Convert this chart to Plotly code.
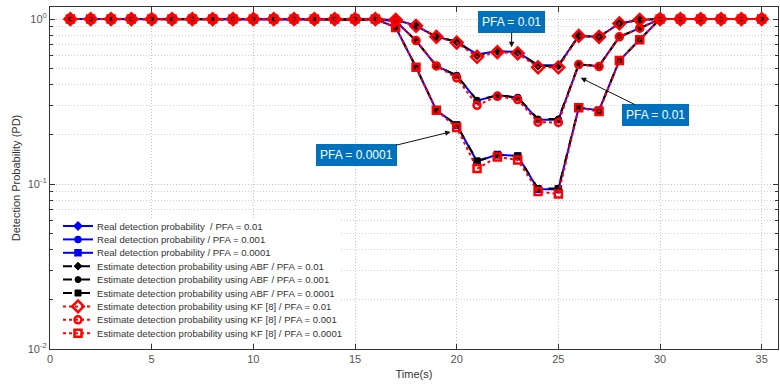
import math
import plotly.graph_objects as go

# Time axis (seconds)
time_s = list(range(1, 36))

ones16 = [1.0] * 16
ones6 = [1.0] * 6

# Real detection probability
real_pfa_1e2 = ones16 + [0.99, 0.91, 0.78, 0.73, 0.61, 0.64, 0.63, 0.525, 0.525, 0.79, 0.78, 0.94, 0.99] + ones6
real_pfa_1e3 = ones16 + [0.97, 0.74, 0.52, 0.455, 0.32, 0.345, 0.335, 0.245, 0.245, 0.53, 0.52, 0.78, 0.88] + ones6
real_pfa_1e4 = ones16 + [0.89, 0.51, 0.28, 0.228, 0.137, 0.151, 0.148, 0.093, 0.093, 0.29, 0.28, 0.56, 0.75] + ones6

# ABF estimate
abf_pfa_1e2 = ones16 + [0.99, 0.91, 0.78, 0.73, 0.60, 0.64, 0.63, 0.52, 0.52, 0.79, 0.78, 0.94, 0.99] + ones6
abf_pfa_1e3 = ones16 + [0.97, 0.74, 0.52, 0.455, 0.322, 0.345, 0.335, 0.248, 0.248, 0.53, 0.52, 0.78, 0.88] + ones6
abf_pfa_1e4 = ones16 + [0.89, 0.51, 0.28, 0.228, 0.138, 0.150, 0.148, 0.094, 0.094, 0.29, 0.28, 0.56, 0.75] + ones6

# KF [8] estimate
kf_pfa_1e2 = ones16 + [0.99, 0.91, 0.78, 0.72, 0.59, 0.63, 0.62, 0.51, 0.51, 0.79, 0.78, 0.94, 0.99] + ones6
kf_pfa_1e3 = ones16 + [0.97, 0.74, 0.52, 0.44, 0.30, 0.34, 0.325, 0.237, 0.236, 0.53, 0.515, 0.78, 0.88] + ones6
kf_pfa_1e4 = ones16 + [0.89, 0.51, 0.28, 0.22, 0.124, 0.146, 0.140, 0.090, 0.087, 0.29, 0.275, 0.56, 0.75] + ones6

# Callout labels: (text, arrow tip t, arrow tip PD, label t, label PD)
callouts = [
    ("PFA = 0.01", 22.7, 0.675, 22.7, 0.96),
    ("PFA = 0.01", 26.1, 0.44, 29.8, 0.262),
    ("PFA = 0.0001", 19.7, 0.207, 15.05, 0.15),
]

BLUE = "#0000FF"
BLACK = "#000000"
RED = "#FF0000"

series = [
    ("Real detection probability  / PFA = 0.01", real_pfa_1e2, BLUE, "solid", "diamond"),
    ("Real detection probability / PFA = 0.001", real_pfa_1e3, BLUE, "solid", "circle"),
    ("Real detection probability / PFA = 0.0001", real_pfa_1e4, BLUE, "solid", "square"),
    ("Estimate detection probability using ABF / PFA = 0.01", abf_pfa_1e2, BLACK, "dash", "diamond"),
    ("Estimate detection probability using ABF / PFA = 0.001", abf_pfa_1e3, BLACK, "dash", "circle"),
    ("Estimate detection probability using ABF / PFA = 0.0001", abf_pfa_1e4, BLACK, "dash", "square"),
    ("Estimate detection probability using KF [8] / PFA = 0.01", kf_pfa_1e2, RED, "dot", "diamond-open"),
    ("Estimate detection probability using KF [8] / PFA = 0.001", kf_pfa_1e3, RED, "dot", "circle-open"),
    ("Estimate detection probability using KF [8] / PFA = 0.0001", kf_pfa_1e4, RED, "dot", "square-open"),
]


def marker_style(color, symbol):
    if color == BLUE:
        return dict(symbol=symbol, size=6, color=BLUE, line=dict(color=BLUE, width=1.5))
    if color == BLACK:
        return dict(symbol=symbol, size=6, color=BLACK, line=dict(color=BLACK, width=1))
    size = 9 if symbol.startswith("diamond") else 7
    return dict(symbol=symbol, size=size, color=RED, line=dict(color=RED, width=2.5))


fig = go.Figure()
for name, vals, color, dash, symbol in series:
    fig.add_trace(go.Scatter(
        x=time_s, y=vals, name=name, mode="lines+markers",
        line=dict(color=color, width=2, dash=dash),
        marker=marker_style(color, symbol),
        showlegend=False,
    ))

# ---- Legend box, drawn on an overlay axis measured in plot-area pixels ----
PLOT_W, PLOT_H = 728, 342
LEG_X0, LEG_X1, LEG_Y0, LEG_Y1 = 2, 290, 212, 335
ROW0, ROW_STEP = 219, 13.4
KEY_X0, KEY_X1, TEXT_X = 13, 43, 45

fig.add_trace(go.Scatter(
    x=[LEG_X0, LEG_X1, LEG_X1, LEG_X0, LEG_X0],
    y=[LEG_Y0, LEG_Y0, LEG_Y1, LEG_Y1, LEG_Y0],
    xaxis="x2", yaxis="y2", mode="lines", fill="toself",
    fillcolor="white", line=dict(color="white", width=0),
    hoverinfo="skip", showlegend=False,
))
for i, (name, vals, color, dash, symbol) in enumerate(series):
    ry = ROW0 + ROW_STEP * i
    fig.add_trace(go.Scatter(
        x=[KEY_X0, KEY_X1], y=[ry, ry], xaxis="x2", yaxis="y2", mode="lines",
        line=dict(color=color, width=2, dash=dash),
        hoverinfo="skip", showlegend=False,
    ))
    fig.add_trace(go.Scatter(
        x=[(KEY_X0 + KEY_X1) / 2], y=[ry], xaxis="x2", yaxis="y2", mode="markers",
        marker=marker_style(color, symbol),
        hoverinfo="skip", showlegend=False,
    ))
    fig.add_annotation(
        x=TEXT_X, y=ry, xref="x2", yref="y2", xanchor="left", yanchor="middle",
        text=name, showarrow=False,
        font=dict(family="Liberation Sans, Arial", size=9.6, color="#333333"),
    )

GRID = "#C4C4C4"
GRID_DASH = "1px,2px"
TICKFONT = dict(family="Liberation Sans, Arial", size=11, color="#555555")
minor_vals = [k * 10 ** e for e in (-2, -1) for k in range(2, 10)]

fig.update_layout(
    width=780, height=387,
    margin=dict(l=50, r=2, t=7, b=38),
    paper_bgcolor="white", plot_bgcolor="white",
    font=dict(family="Liberation Sans, Arial", size=11, color="#333333"),
    showlegend=False,
    xaxis=dict(
        range=[0, 35.8], tickvals=[0, 5, 10, 15, 20, 25, 30, 35],
        showgrid=True, gridcolor=GRID, griddash=GRID_DASH, gridwidth=1,
        ticks="inside", ticklen=5, tickcolor="#333333",
        showline=True, linecolor="#333333", linewidth=1, mirror="ticks",
        zeroline=False, tickfont=TICKFONT,
        title=dict(text="Time(s)", font=dict(size=11, color="#333333"), standoff=6),
    ),
    yaxis=dict(
        type="log", range=[-2, 0.073],
        tickvals=[0.01, 0.1, 1], ticktext=["10<sup>-2</sup>", "10<sup>-1</sup>", "10<sup>0</sup>"],
        showgrid=True, gridcolor=GRID, griddash=GRID_DASH, gridwidth=1,
        ticks="inside", ticklen=5, tickcolor="#333333",
        minor=dict(tickvals=minor_vals, ticks="inside", ticklen=3, tickcolor="#333333",
                   showgrid=True, gridcolor="#D2D2D2", griddash=GRID_DASH),
        showline=True, linecolor="#333333", linewidth=1, mirror="ticks",
        zeroline=False, tickfont=TICKFONT,
        title=dict(text="Detection Probability (PD)", font=dict(size=11, color="#333333"), standoff=4),
    ),
    xaxis2=dict(overlaying="x", range=[0, PLOT_W], visible=False, fixedrange=True),
    yaxis2=dict(overlaying="y", range=[PLOT_H, 0], visible=False, fixedrange=True),
)

BOX = "#0072BD"
for text, px, py, bx, by in callouts:
    fig.add_annotation(
        x=px, y=math.log10(py), xref="x", yref="y",
        ax=bx, ay=math.log10(by), axref="x", ayref="y",
        text=text, showarrow=True, arrowhead=2, arrowsize=1.1, arrowwidth=1,
        arrowcolor="#111111",
        bgcolor=BOX, bordercolor=BOX, borderpad=3,
        font=dict(family="Liberation Sans, Arial", size=12, color="white"),
    )

fig.write_html("out.html")
